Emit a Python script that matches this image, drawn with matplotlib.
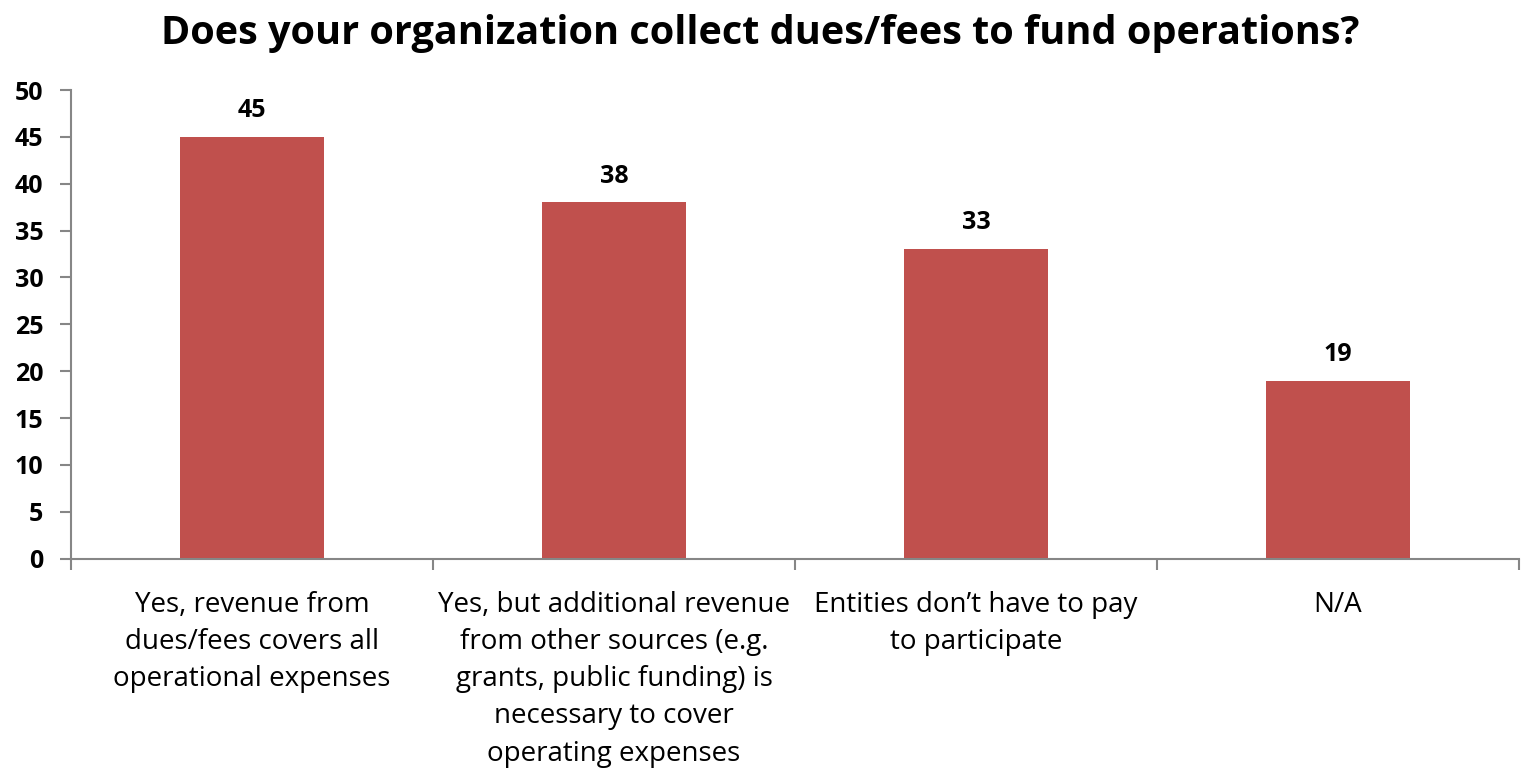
#!/usr/bin/env python3
"""Bar chart: does your organization collect dues/fees to fund operations?"""

import matplotlib

matplotlib.use('Agg')
import matplotlib.pyplot as plt
import numpy as np

categories = [
    'Yes, revenue from\ndues/fees covers all\noperational expenses',
    'Yes, but additional revenue\nfrom other sources (e.g.\ngrants, public funding) is\nnecessary to cover\noperating expenses',
    'Entities don\u2019t have to pay\nto participate',
    'N/A',
]
counts = [45, 38, 33, 19]
y_ticks = list(range(0, 51, 5))

plt.rcParams['font.family'] = ['Open Sans', 'DejaVu Sans']

fig = plt.figure(figsize=(15.21, 7.72), dpi=100)
ax = fig.add_axes([0.0467, 0.2763, 0.952, 0.6071])

x = np.arange(len(categories))
bars = ax.bar(x, counts, width=0.4, color='#C0504D')
for b, v in zip(bars, counts):
    ax.annotate(str(v), (b.get_x() + b.get_width() / 2, v),
                xytext=(0, 10), textcoords='offset points',
                ha='center', va='bottom', fontsize=18, fontweight='bold')

ax.set_xlim(-0.5, len(categories) - 0.5)
ax.set_ylim(0, 50)
ax.set_yticks(y_ticks)
ax.set_yticklabels([str(t) for t in y_ticks], fontsize=18, fontweight='bold')
ax.set_xticks(x)
ax.set_xticklabels(categories, fontsize=20, linespacing=1.44)
ax.set_xticks(np.arange(-0.5, len(categories)), minor=True)
ax.tick_params(axis='x', which='major', length=0, pad=23)
ax.tick_params(axis='x', which='minor', length=8, color='#868686', width=1.5)
ax.tick_params(axis='y', length=8, color='#868686', width=1.5, pad=12)

for s in ['top', 'right']:
    ax.spines[s].set_visible(False)
for s in ['left', 'bottom']:
    ax.spines[s].set_color('#868686')
    ax.spines[s].set_linewidth(1.5)

fig.suptitle('Does your organization collect dues/fees to fund operations?',
             fontsize=28.5, fontweight='bold', y=0.982)

fig.savefig('out.png', dpi=100)
